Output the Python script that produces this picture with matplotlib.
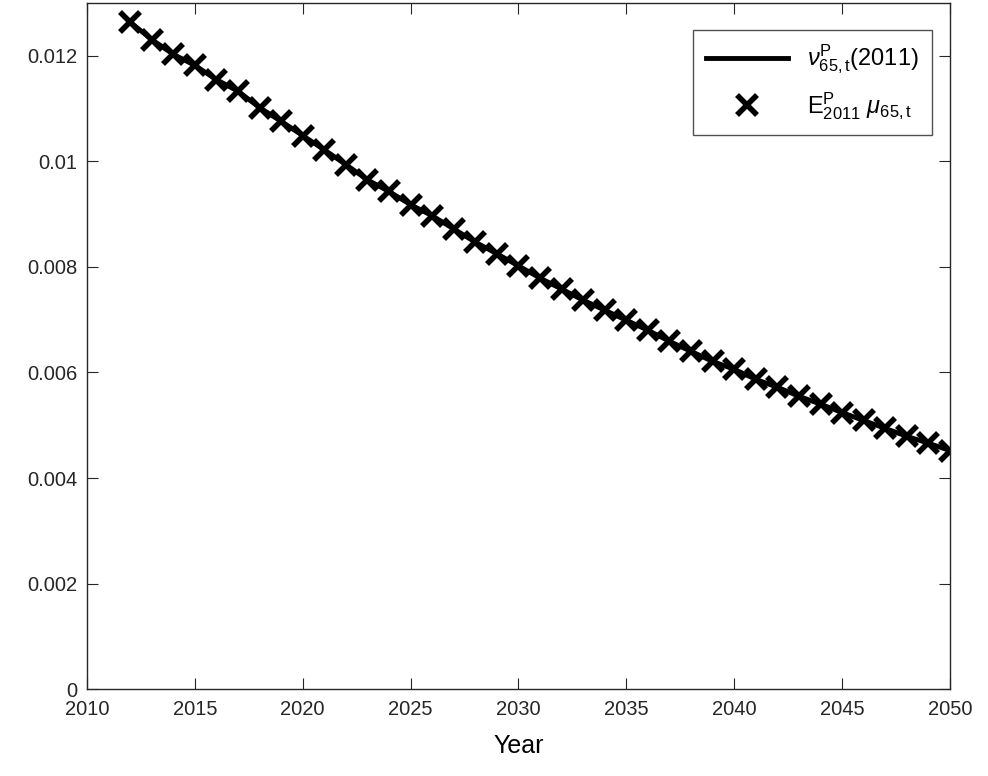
import numpy as np
import matplotlib.pyplot as plt

plt.rcParams['font.family'] = ['Liberation Sans', 'DejaVu Sans']
plt.rcParams['mathtext.fontset'] = 'custom'
plt.rcParams['mathtext.rm'] = 'Liberation Sans'
plt.rcParams['mathtext.it'] = 'Liberation Sans:italic'

years = np.arange(2012, 2051)
mu = [0.01264, 0.01231, 0.01203, 0.01182, 0.01155, 0.01133, 0.01102, 0.01076,
      0.01049, 0.01022, 0.00994, 0.00965, 0.00943, 0.00918, 0.00897, 0.00872,
      0.00847, 0.00825, 0.00802, 0.00779, 0.00758, 0.00737, 0.00718, 0.00699,
      0.00680, 0.00659, 0.00640, 0.00621, 0.00606, 0.00587, 0.00572, 0.00555,
      0.00540, 0.00524, 0.00509, 0.00494, 0.00479, 0.00466, 0.00452]

fig = plt.figure(figsize=(9.88, 7.76), dpi=100)
ax = fig.add_axes([0.088, 0.112, 0.8735, 0.884])

ax.plot(years, mu, color='black', linewidth=3.5,
        label=r'$\nu^{\mathrm{P}}_{\mathrm{65,t}}$(2011)')
ax.plot(years, mu, linestyle='none', marker='x', markersize=14, markeredgewidth=4,
        color='black', label=r'E$^{\mathrm{P}}_{\mathrm{2011}}$ $\mu_{\mathrm{65,t}}$')

ax.set_xlim(2010, 2050)
ax.set_ylim(0, 0.013)
ax.set_xticks(np.arange(2010, 2051, 5))
ax.set_yticks([0, 0.002, 0.004, 0.006, 0.008, 0.01, 0.012])
ax.set_yticklabels(['0', '0.002', '0.004', '0.006', '0.008', '0.01', '0.012'])
ax.set_xlabel('Year', fontsize=18, labelpad=11)
for s in ax.spines.values():
    s.set_color('#262626')
    s.set_linewidth(1.0)
ax.tick_params(axis='both', which='both', direction='in', top=True, right=True,
               labelsize=14.5, colors='#262626', length=8)
ax.tick_params(axis='x', pad=8)
ax.tick_params(axis='y', pad=7)

leg = ax.legend(loc='upper right', bbox_to_anchor=(0.979, 0.961), borderaxespad=0,
                fontsize=17, frameon=True, fancybox=False, edgecolor='#262626',
                handlelength=3.5, labelspacing=0.6, borderpad=0.55)
leg.get_frame().set_linewidth(1.0)

fig.savefig('out.png', dpi=100)
